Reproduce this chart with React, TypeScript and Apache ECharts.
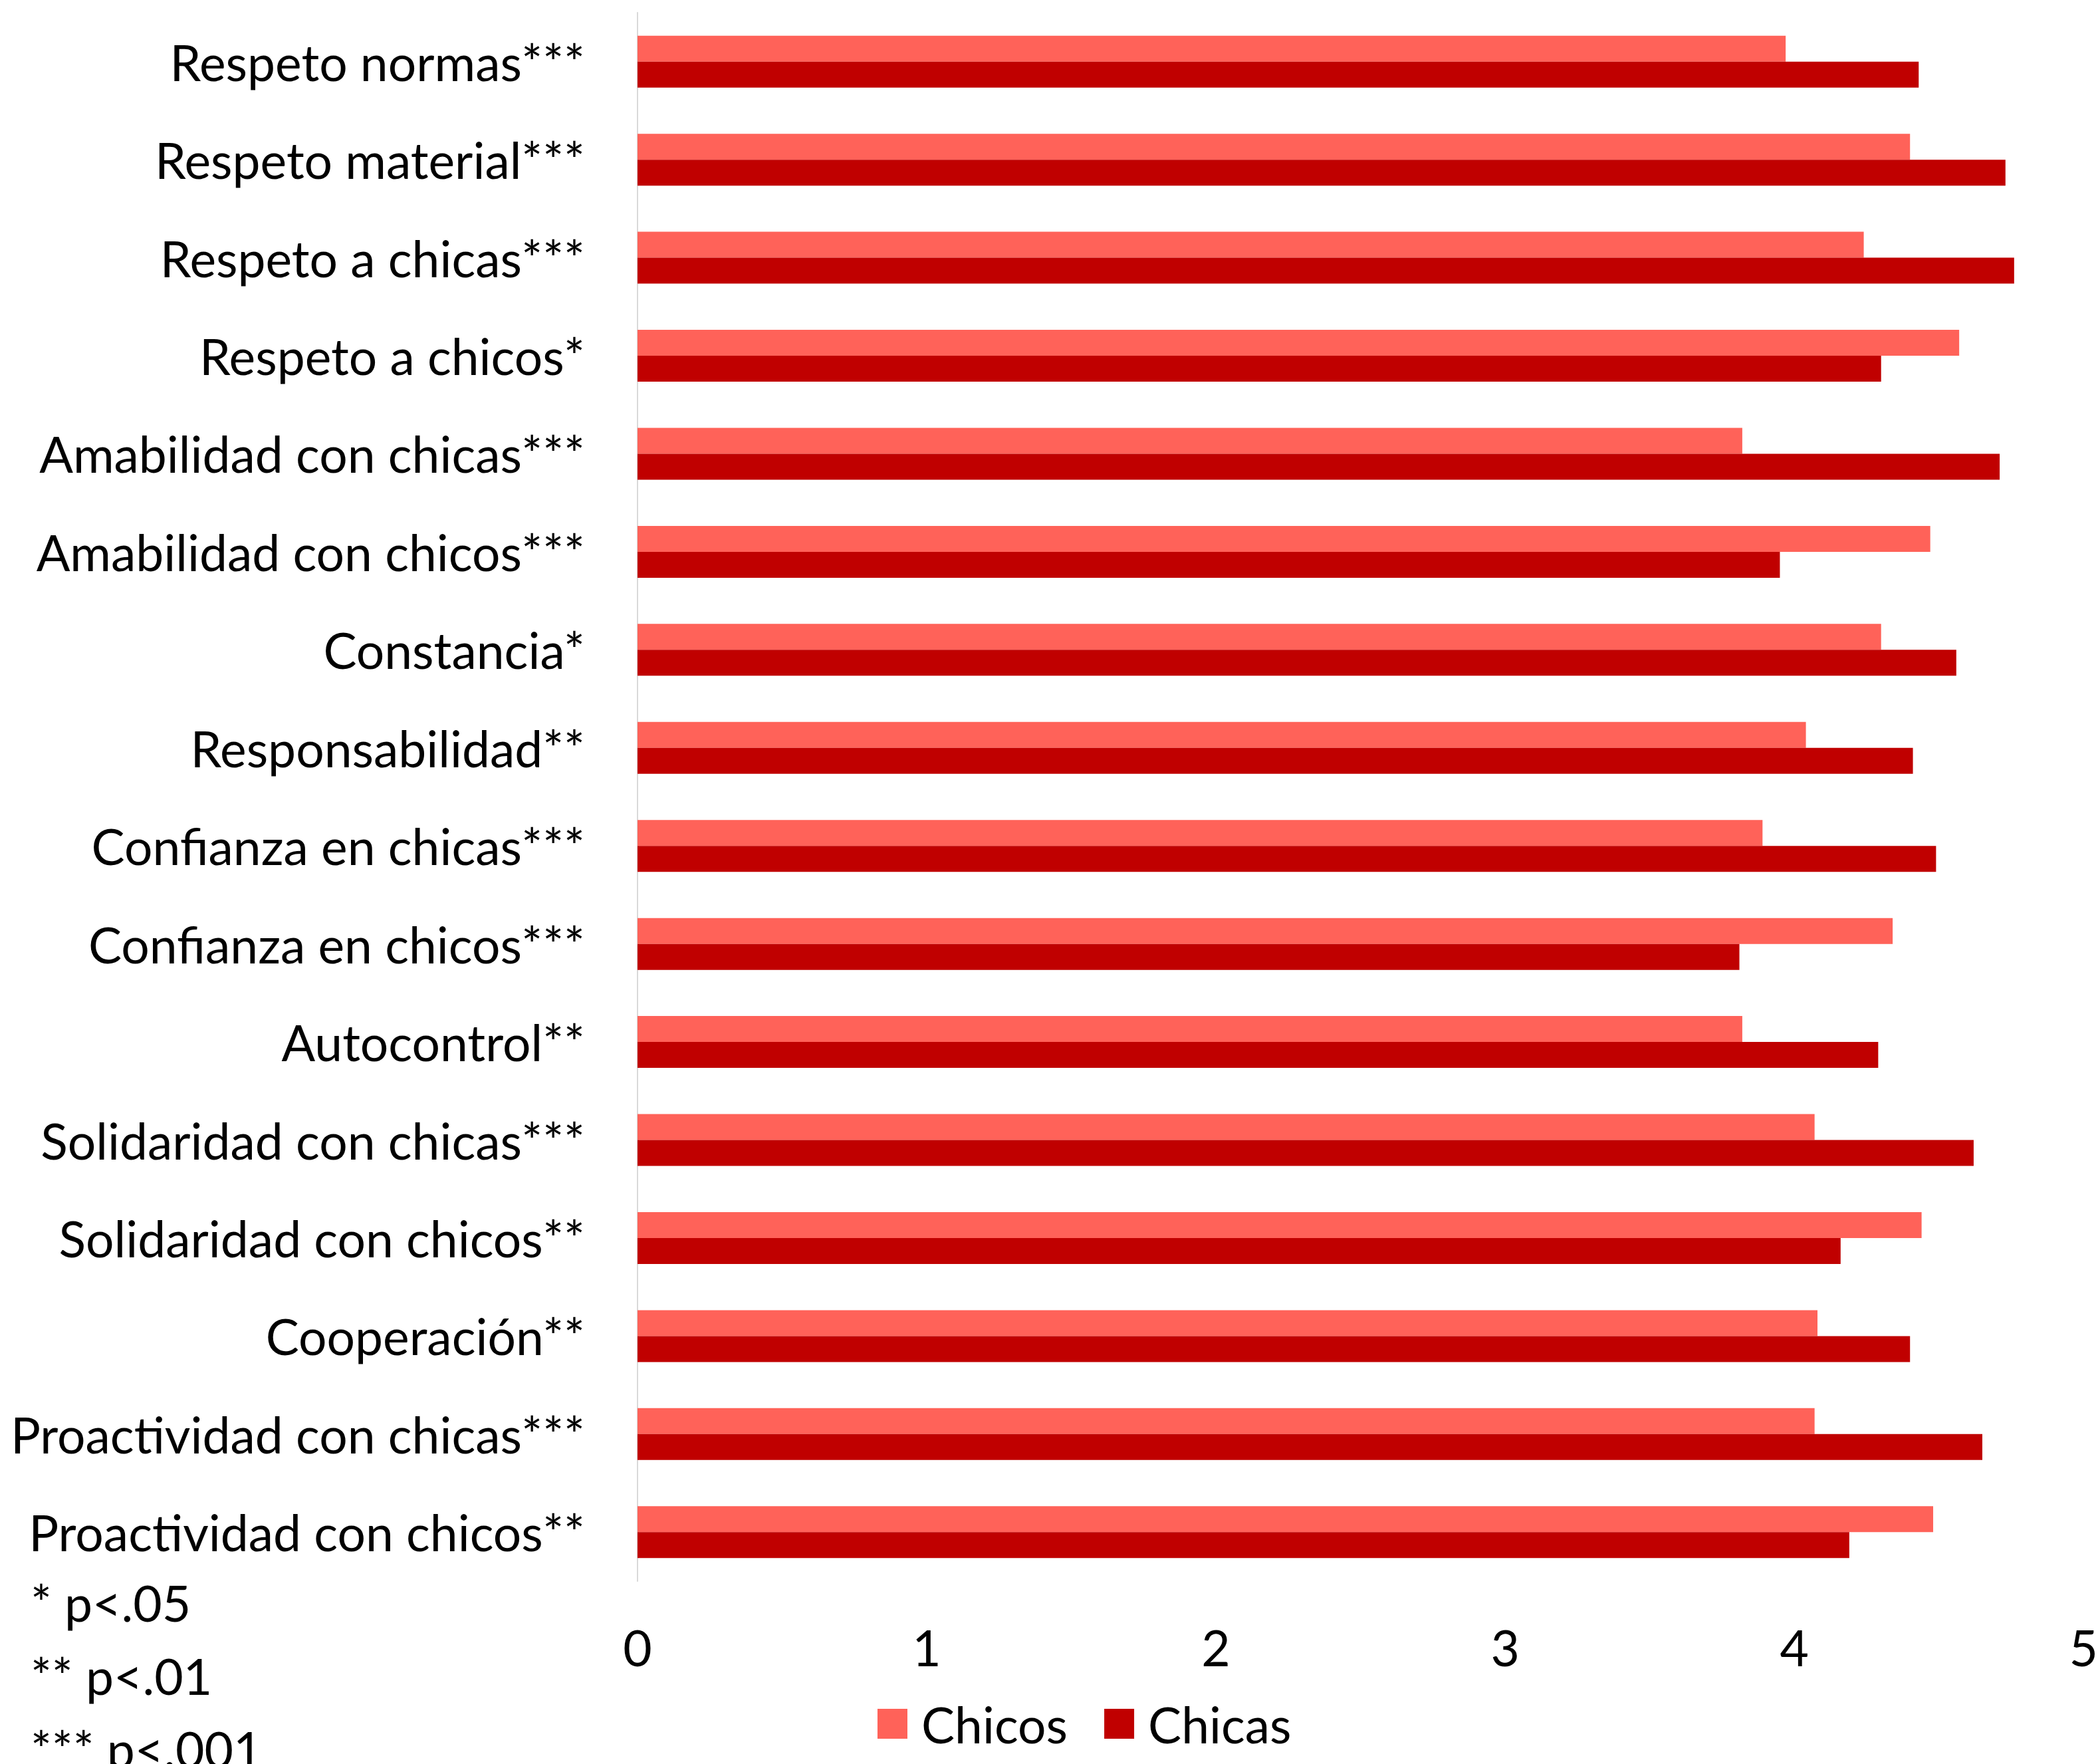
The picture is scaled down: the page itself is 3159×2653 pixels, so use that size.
import React, { useEffect, useRef } from "react";
import * as echarts from "echarts";

const categories = [
  "Respeto normas***",
  "Respeto material***",
  "Respeto a chicas***",
  "Respeto a chicos*",
  "Amabilidad con chicas***",
  "Amabilidad con chicos***",
  "Constancia*",
  "Responsabilidad**",
  "Confianza en chicas***",
  "Confianza en chicos***",
  "Autocontrol**",
  "Solidaridad con chicas***",
  "Solidaridad con chicos**",
  "Cooperación**",
  "Proactividad con chicas***",
  "Proactividad con chicos**",
];

const chicos = [3.97, 4.4, 4.24, 4.57, 3.82, 4.47, 4.3, 4.04, 3.89, 4.34, 3.82, 4.07, 4.44, 4.08, 4.07, 4.48];
const chicas = [4.43, 4.73, 4.76, 4.3, 4.71, 3.95, 4.56, 4.41, 4.49, 3.81, 4.29, 4.62, 4.16, 4.4, 4.65, 4.19];

const xTicks = [0, 1, 2, 3, 4, 5];
const footnotes = ["* p<.05", "** p<.01", "*** p<.001"];

const FONT = "Lato";
const FS = 75;

export default function App() {
  const ref = useRef<HTMLDivElement>(null);
  useEffect(() => {
    document.body.style.margin = "0";
    const chart = echarts.init(ref.current!, null, { renderer: "svg" });
    chart.setOption({
      animation: false,
      backgroundColor: "#ffffff",
      textStyle: { fontFamily: FONT },
      grid: { left: 959, right: 15, top: 19, bottom: 275, containLabel: false },
      legend: {
        left: 1320,
        top: 2555,
        padding: 0,
        itemWidth: 45,
        itemHeight: 45,
        itemGap: 55,
        icon: "rect",
        data: ["Chicos", "Chicas"],
        textStyle: { fontSize: FS, color: "#000", fontFamily: FONT, padding: [0, 0, 0, 16] },
      },
      xAxis: {
        type: "value",
        min: xTicks[0],
        max: xTicks[xTicks.length - 1],
        interval: 1,
        axisLine: { show: false },
        axisTick: { show: false },
        splitLine: { show: false },
        axisLabel: { fontSize: FS, color: "#000", fontFamily: FONT, margin: 61 },
      },
      yAxis: {
        type: "category",
        data: categories,
        inverse: true,
        axisLine: { show: true, lineStyle: { color: "#d9d9d9", width: 2 } },
        axisTick: { show: false },
        axisLabel: { fontSize: FS, color: "#000", fontFamily: FONT, margin: 79 },
      },
      graphic: footnotes.map((t, i) => ({
        type: "text",
        left: 46,
        top: 2412 + i * 110 - 40,
        style: { text: t, fontSize: FS, fill: "#000", fontFamily: FONT },
      })),
      series: [
        {
          name: "Chicos",
          type: "bar",
          data: chicos,
          barWidth: 39,
          barGap: "0%",
          itemStyle: { color: "#FF6259" },
        },
        {
          name: "Chicas",
          type: "bar",
          data: chicas,
          barWidth: 39,
          barGap: "0%",
          itemStyle: { color: "#C00000" },
        },
      ],
    });
    return () => chart.dispose();
  }, []);
  return <div ref={ref} style={{ width: 3159, height: 2653 }} />;
}
